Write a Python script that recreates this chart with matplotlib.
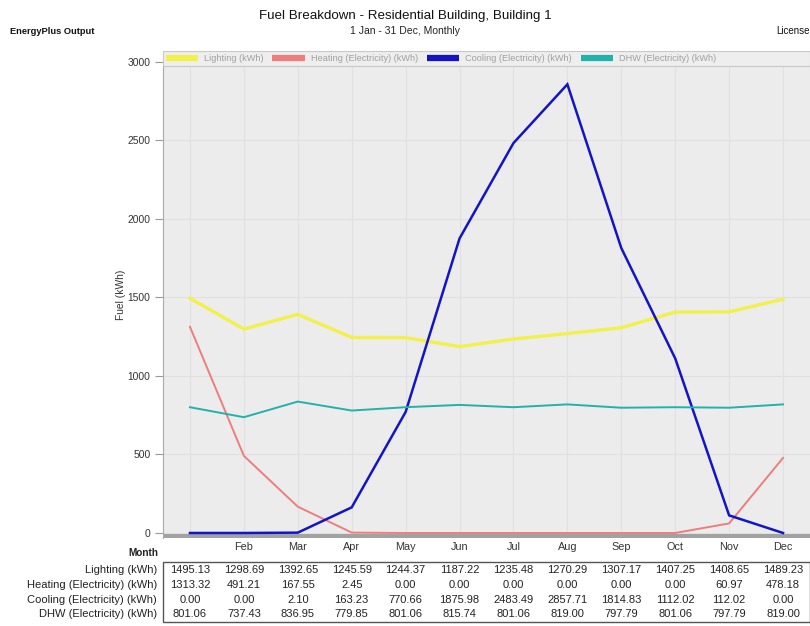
import matplotlib
matplotlib.use("Agg")
import matplotlib.pyplot as plt
from matplotlib.lines import Line2D
from matplotlib.patches import Rectangle
import matplotlib.transforms as mtrans

plt.rcParams['font.family'] = ['Liberation Sans', 'DejaVu Sans']

months = ["Jan", "Feb", "Mar", "Apr", "May", "Jun", "Jul", "Aug", "Sep", "Oct", "Nov", "Dec"]
tick_labels = ["", "Feb", "Mar", "Apr", "May", "Jun", "Jul", "Aug", "Sep", "Oct", "Nov", "Dec"]
lighting = [1495.13, 1298.69, 1392.65, 1245.59, 1244.37, 1187.22, 1235.48, 1270.29, 1307.17, 1407.25, 1408.65, 1489.23]
heating = [1313.32, 491.21, 167.55, 2.45, 0.00, 0.00, 0.00, 0.00, 0.00, 0.00, 60.97, 478.18]
cooling = [0.00, 0.00, 2.10, 163.23, 770.66, 1875.98, 2483.49, 2857.71, 1814.83, 1112.02, 112.02, 0.00]
dhw = [801.06, 737.43, 836.95, 779.85, 801.06, 815.74, 801.06, 819.00, 797.79, 801.06, 797.79, 819.00]
series_names = ["Lighting (kWh)", "Heating (Electricity) (kWh)", "Cooling (Electricity) (kWh)", "DHW (Electricity) (kWh)"]
series_values = [lighting, heating, cooling, dhw]
colors = ["#f2f04a", "#ee7d7d", "#1414c4", "#22b2aa"]
widths = [2.4, 1.4, 1.8, 1.4]
y_ticks = [0, 500, 1000, 1500, 2000, 2500, 3000]

fig = plt.figure(figsize=(8.1, 6.26), dpi=100)
ax = fig.add_axes([163/810, 1-538/626, 1-163/810, (538-51)/626])
ax.set_facecolor("#ececec")
x = list(range(len(months)))
ax.set_xlim(-0.5, 11.5)
ax.set_ylim(-32, 3070)

for i in x:
    ax.axvline(i, color="#e0e0e0", lw=0.8, zorder=0)
for yv in y_ticks:
    ax.axhline(yv, color="#e0e0e0", lw=0.8, zorder=0)

ax.axhspan(-32, -8, color="#a2a2a2", zorder=1, lw=0)

for name, vals, c, w in zip(series_names, series_values, colors, widths):
    ax.plot(x, vals, color=c, lw=w, zorder=3, solid_joinstyle="miter")

ax.set_xticks(x)
ax.set_xticklabels(tick_labels, fontsize=7.8, color="#333333")
ax.tick_params(axis="x", length=0, pad=3)
ax.set_yticks(y_ticks)
ax.set_yticklabels([str(v) for v in y_ticks], fontsize=7.4, color="#333333")
ax.tick_params(axis="y", length=6, color="#999999", width=0.8, pad=3)
ax.set_ylabel("Fuel (kWh)", fontsize=7.4, color="#333333", labelpad=1)
for s in ["top", "right", "bottom"]:
    ax.spines[s].set_visible(False)
ax.spines["left"].set_color("#aaaaaa")
ax.spines["left"].set_linewidth(0.8)

# legend strip spanning the plot width
strip = Rectangle((0, 1 - 15/487), 1, 15/487, transform=ax.transAxes, facecolor="#eeeeee",
                  edgecolor="#c8c8c8", lw=0.8, zorder=4)
ax.add_patch(strip)
handles = [Line2D([0], [0], color=c, lw=4.5, solid_capstyle="butt") for c in colors]
leg = ax.legend(handles, series_names, loc="upper left", bbox_to_anchor=(0.0, 1.0),
                ncol=4, fontsize=6.6, frameon=False, handlelength=3.5, handletextpad=0.7,
                columnspacing=0.95, borderaxespad=0.1, borderpad=0.2)
leg.set_zorder(5)
for t in leg.get_texts():
    t.set_color("#a0a0a0")

fig.text(0.5, 1-16/626, "Fuel Breakdown - Residential Building, Building 1", ha="center", va="center",
         fontsize=9.6, color="#111111")
fig.text(0.5, 1-31/626, "1 Jan - 31 Dec, Monthly", ha="center", va="center", fontsize=7.5, color="#222222")
fig.text(10/810, 1-31/626, "EnergyPlus Output", ha="left", va="center", fontsize=6.7, color="#111111",
         fontweight="bold")
fig.text(1.0, 1-31/626, "License", ha="right", va="center", fontsize=7, color="#111111")

fig.text(158/810, 1-553/626, "Month", ha="right", va="center", fontsize=7.2, color="#222222",
         fontweight="bold")

# table box
box = Rectangle((163/810, 1-622/626), 1-163/810, 60/626, transform=fig.transFigure,
                facecolor="white", edgecolor="#555555", lw=1.0)
fig.patches.append(box)
trans = mtrans.blended_transform_factory(ax.transData, fig.transFigure)
row_y = [570, 585, 600, 614]
for name, vals, ry in zip(series_names, series_values, row_y):
    fig.text(157/810, 1-ry/626, name, ha="right", va="center", fontsize=8, color="#222222")
    for i, v in enumerate(vals):
        fig.text(i, 1-ry/626, f"{v:.2f}", transform=trans, ha="center", va="center",
                 fontsize=8, color="#222222")

fig.savefig("out.png", dpi=100)
